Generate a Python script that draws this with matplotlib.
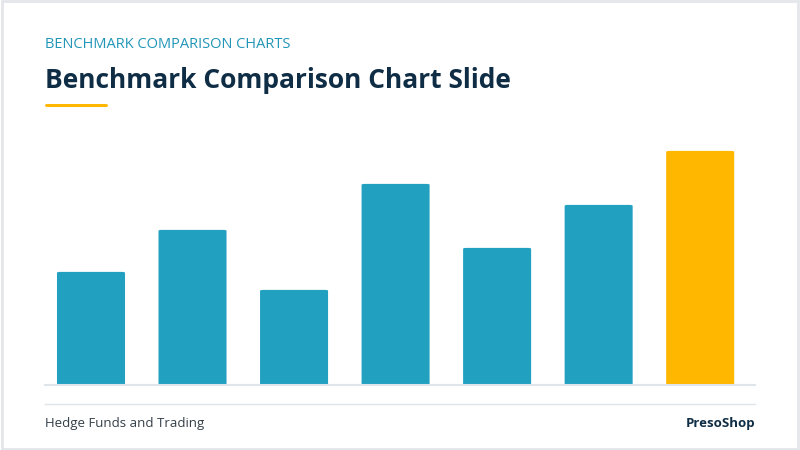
import matplotlib
matplotlib.use("Agg")
import matplotlib.pyplot as plt
from matplotlib.patches import FancyBboxPatch, Rectangle

categories = ["A", "B", "C", "D", "E", "F", "G"]
values = [114, 156, 96, 202, 138, 181, 235]
colors = ["#22a0c0"] * 6 + ["#ffb700"]

W, H = 800, 450
fig = plt.figure(figsize=(8, 4.5), dpi=100)
fig.patch.set_facecolor("white")
fig.patches.append(Rectangle((0.002, 0.002), 0.996, 0.996, transform=fig.transFigure,
                             fill=False, edgecolor="#e3e6ea", lw=2))

fig.text(45/W, 1-45/H, "BENCHMARK COMPARISON CHARTS", color="#2196b8", fontsize=10.5,
         family="Open Sans", va="center", ha="left")
fig.text(45/W, 1-80/H, "Benchmark Comparison Chart Slide", color="#0f2d45", fontsize=19,
         family="Open Sans", weight="bold", va="center", ha="left")
fig.patches.append(FancyBboxPatch((45/W, 1-107/H), 63/W, 3/H, boxstyle="round,pad=0,rounding_size=0.003",
                                  transform=fig.transFigure, facecolor="#ffb700", edgecolor="none"))

ax = fig.add_axes([45/W, 1-385/H, 710/W, 245/H])
ax.set_xlim(-0.453, 6.54)
ax.set_ylim(0, 245)
x = list(range(len(categories)))
for xi, v, c in zip(x, values, colors):
    ax.add_patch(FancyBboxPatch((xi-0.335+0.02, 0), 0.67-0.04, v-1.5,
                                boxstyle="round,pad=0.02,rounding_size=0.03",
                                mutation_aspect=30, facecolor=c, edgecolor="none"))
ax.axis("off")
fig.add_artist(plt.Line2D([45/W, 755/W], [1-385/H, 1-385/H], color="#dfe5e8", lw=1.5))
fig.add_artist(plt.Line2D([45/W, 755/W], [1-404/H, 1-404/H], color="#dfe5e8", lw=1))

fig.text(45/W, 1-424/H, "Hedge Funds and Trading", color="#333f48", fontsize=9.5,
         family="Open Sans", va="center", ha="left")
fig.text(755/W, 1-424/H, "PresoShop", color="#0f2d45", fontsize=9.5,
         family="Open Sans", weight="bold", va="center", ha="right")

fig.savefig("out.png", dpi=100)
